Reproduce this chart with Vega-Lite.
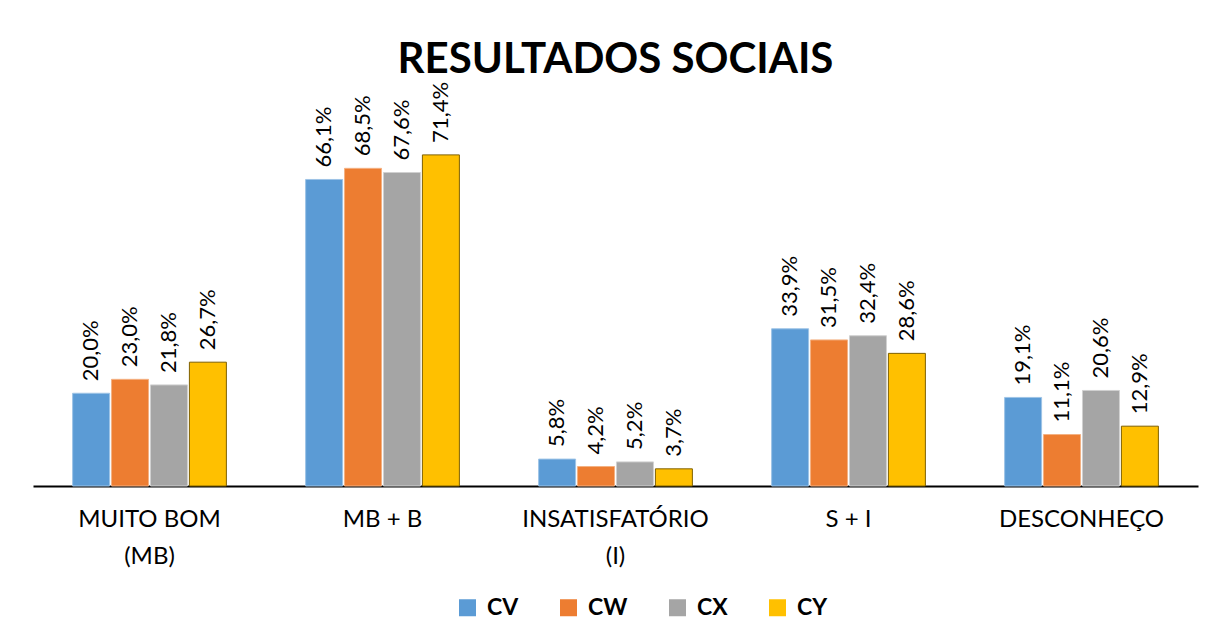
{
  "$schema": "https://vega.github.io/schema/vega-lite/v6.json",
  "autosize": "none",
  "width": 1165,
  "height": 371,
  "padding": {"left": 33, "top": 115, "right": 20, "bottom": 157},
  "background": "white",
  "title": {
    "text": "RESULTADOS SOCIAIS",
    "font": "Lato",
    "fontSize": 42,
    "fontWeight": "bold",
    "color": "black",
    "anchor": "middle",
    "offset": 0
  },
  "data": {
    "values": [
      {"cat": "MUITO BOM (MB)", "serie": "CV", "value": 20.0},
      {"cat": "MUITO BOM (MB)", "serie": "CW", "value": 23.0},
      {"cat": "MUITO BOM (MB)", "serie": "CX", "value": 21.8},
      {"cat": "MUITO BOM (MB)", "serie": "CY", "value": 26.7},
      {"cat": "MB + B", "serie": "CV", "value": 66.1},
      {"cat": "MB + B", "serie": "CW", "value": 68.5},
      {"cat": "MB + B", "serie": "CX", "value": 67.6},
      {"cat": "MB + B", "serie": "CY", "value": 71.4},
      {"cat": "INSATISFATÓRIO (I)", "serie": "CV", "value": 5.8},
      {"cat": "INSATISFATÓRIO (I)", "serie": "CW", "value": 4.2},
      {"cat": "INSATISFATÓRIO (I)", "serie": "CX", "value": 5.2},
      {"cat": "INSATISFATÓRIO (I)", "serie": "CY", "value": 3.7},
      {"cat": "S + I", "serie": "CV", "value": 33.9},
      {"cat": "S + I", "serie": "CW", "value": 31.5},
      {"cat": "S + I", "serie": "CX", "value": 32.4},
      {"cat": "S + I", "serie": "CY", "value": 28.6},
      {"cat": "DESCONHEÇO", "serie": "CV", "value": 19.1},
      {"cat": "DESCONHEÇO", "serie": "CW", "value": 11.1},
      {"cat": "DESCONHEÇO", "serie": "CX", "value": 20.6},
      {"cat": "DESCONHEÇO", "serie": "CY", "value": 12.9}
    ]
  },
  "transform": [
    {"calculate": "replace(format(datum.value, '.1f'), '.', ',') + '%'", "as": "label"}
  ],
  "encoding": {
    "x": {
      "field": "cat",
      "type": "nominal",
      "sort": null,
      "title": null,
      "scale": {"paddingInner": 0.34, "paddingOuter": 0.17},
      "axis": {
        "domainColor": "black",
        "domainWidth": 2,
        "ticks": false,
        "labelAngle": 0,
        "labelFont": "Lato",
        "labelFontSize": 24,
        "labelColor": "black",
        "labelPadding": 21,
        "labelLineHeight": 37,
        "labelLimit": 400,
        "labelExpr": "indexof(datum.label, ' (') > 0 ? [substring(datum.label, 0, indexof(datum.label, ' (')), substring(datum.label, indexof(datum.label, ' (') + 1)] : datum.label"
      }
    },
    "xOffset": {"field": "serie", "type": "nominal", "scale": {"paddingInner": 0.05}},
    "y": {
      "field": "value",
      "type": "quantitative",
      "scale": {"domain": [0, 80]},
      "axis": null
    }
  },
  "layer": [
    {
      "mark": {"type": "bar", "strokeWidth": 1},
      "encoding": {
        "color": {
          "field": "serie",
          "type": "nominal",
          "scale": {"domain": ["CV", "CW", "CX", "CY"], "range": ["#5B9BD5", "#ED7D31", "#A5A5A5", "#FFC000"]},
          "legend": {
            "orient": "none",
            "direction": "horizontal",
            "legendX": 423,
            "legendY": 481,
            "title": null,
            "symbolType": "square",
            "symbolSize": 289,
            "symbolStrokeWidth": 0,
            "labelFont": "Lato",
            "labelFontSize": 23,
            "labelFontWeight": "bold",
            "labelColor": "black",
            "labelOffset": 8,
            "columnPadding": 38
          }
        },
        "stroke": {
          "field": "serie",
          "type": "nominal",
          "scale": {"domain": ["CV", "CW", "CX", "CY"], "range": ["#9DC3E6", "#F4B183", "#D0D0D0", "#7F6000"]},
          "legend": null
        }
      }
    },
    {
      "mark": {
        "type": "text",
        "angle": -90,
        "align": "left",
        "baseline": "middle",
        "dx": 12,
        "font": "Lato",
        "fontSize": 22,
        "color": "black"
      },
      "encoding": {"text": {"field": "label"}}
    }
  ],
  "config": {
    "view": {"stroke": null},
    "axis": {"grid": false}
  }
}
